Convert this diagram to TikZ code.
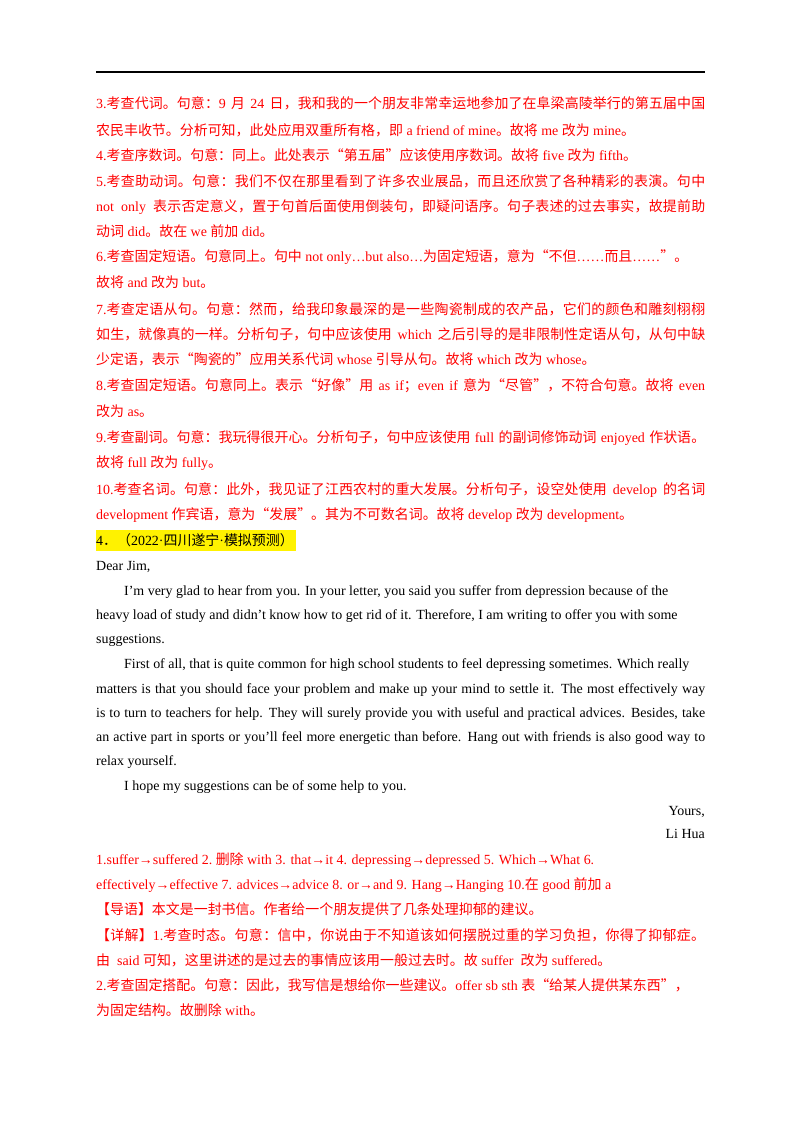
\documentclass[tikz,border=0pt]{standalone}
\usepackage{fontspec}
\setmainfont{Liberation Serif}
\newfontfamily\cjk{Noto Sans CJK SC}
\newfontfamily\lat{Liberation Serif}
\XeTeXinterchartokenstate=1
\newXeTeXintercharclass\CJKcls
\count255="3000
\loop \XeTeXcharclass\count255=\CJKcls \advance\count255 1 \ifnum\count255<"A000 \repeat
\count255="FF00
\loop \XeTeXcharclass\count255=\CJKcls \advance\count255 1 \ifnum\count255<"FFF0 \repeat
\XeTeXcharclass"201C=\CJKcls
\XeTeXcharclass"201D=\CJKcls
\XeTeXinterchartoks 0 \CJKcls = {\cjk}
\XeTeXinterchartoks 4095 \CJKcls = {\cjk}
\XeTeXinterchartoks \CJKcls 0 = {\lat}
\XeTeXinterchartoks \CJKcls 4095 = {\lat}
\XeTeXinterchartoks \CJKcls \CJKcls = {\hskip0pt plus 0.1pt}
\newcommand{\fl}[1]{\makebox[609bp][s]{#1}}
\tikzset{ln/.style={anchor=base west,inner sep=0pt,font=\fontsize{14}{17}\selectfont},
 rd/.style={ln,text=red}}
\begin{document}
\begin{tikzpicture}[x=1bp,y=-1bp]
\useasboundingbox[fill=white] (0,0) rectangle (800,1132);
\draw[line width=1.5bp] (96,72) -- (705,72);
\fill[yellow] (96,530) rectangle (296,551);
\node[rd] (l1) at (96,108) {\fl{3.考查代词。句意：9 月 24 日，我和我的一个朋友非常幸运地参加了在阜梁高陵举行的第五届中国}};
\node[rd] (l2) at (96,135) {农民丰收节。分析可知，此处应用双重所有格，即 a friend of mine。故将 me 改为 mine。};
\node[rd] (l3) at (96,160) {4.考查序数词。句意：同上。此处表示“第五届”应该使用序数词。故将 five 改为 fifth。};
\node[rd] (l4) at (96,186) {\fl{5.考查助动词。句意：我们不仅在那里看到了许多农业展品，而且还欣赏了各种精彩的表演。句中}};
\node[rd] (l5) at (96,211) {\fl{not only 表示否定意义，置于句首后面使用倒装句，即疑问语序。句子表述的过去事实，故提前助}};
\node[rd] (l6) at (96,236) {动词 did。故在 we 前加 did。};
\node[rd] (l7) at (96,261) {6.考查固定短语。句意同上。句中 not only…but also…为固定短语，意为“不但……而且……”。};
\node[rd] (l8) at (96,287) {故将 and 改为 but。};
\node[rd] (l9) at (96,314) {\fl{7.考查定语从句。句意：然而，给我印象最深的是一些陶瓷制成的农产品，它们的颜色和雕刻栩栩}};
\node[rd] (l10) at (96,339) {\fl{如生，就像真的一样。分析句子，句中应该使用 which 之后引导的是非限制性定语从句，从句中缺}};
\node[rd] (l11) at (96,364) {少定语，表示“陶瓷的”应用关系代词 whose 引导从句。故将 which 改为 whose。};
\node[rd] (l12) at (96,390) {\fl{8.考查固定短语。句意同上。表示“好像”用 as if；even if 意为“尽管”，不符合句意。故将 even}};
\node[rd] (l13) at (96,416) {改为 as。};
\node[rd] (l14) at (96,442) {\fl{9.考查副词。句意：我玩得很开心。分析句子，句中应该使用 full 的副词修饰动词 enjoyed 作状语。}};
\node[rd] (l15) at (96,467) {故将 full 改为 fully。};
\node[rd] (l16) at (96,494) {\fl{10.考查名词。句意：此外，我见证了江西农村的重大发展。分析句子，设空处使用 develop 的名词}};
\node[rd] (l17) at (96,519) {development 作宾语，意为“发展”。其为不可数名词。故将 develop 改为 development。};
\node[ln] (h4) at (96,545) {4．（2022·四川遂宁·模拟预测）};
\node[ln] (d1) at (96,570) {Dear Jim,};
\node[ln] (d2) at (124,595) {I'm very glad to hear from you. In your letter, you said you suffer from depression because of the};
\node[ln] (d3) at (96,619) {heavy load of study and didn't know how to get rid of it. Therefore, I am writing to offer you with some};
\node[ln] (d4) at (96,643) {suggestions.};
\node[ln] (d5) at (124,668) {First of all, that is quite common for high school students to feel depressing sometimes. Which really};
\node[ln] (d6) at (96,693) {\fl{matters is that you should face your problem and make up your mind to settle it. The most effectively way}};
\node[ln] (d7) at (96,717) {\fl{is to turn to teachers for help. They will surely provide you with useful and practical advices. Besides, take}};
\node[ln] (d8) at (96,741) {\fl{an active part in sports or you'll feel more energetic than before. Hang out with friends is also good way to}};
\node[ln] (d9) at (96,765) {relax yourself.};
\node[ln] (d10) at (124,790) {I hope my suggestions can be of some help to you.};
\node[ln,anchor=base east] (d11) at (705,815) {Yours,};
\node[ln,anchor=base east] (d12) at (705,838) {Li Hua};
\node[rd] (a1) at (96,864) {1.suffer→suffered 2.\ 删除 with 3. that→it 4. depressing→depressed 5. Which→What 6.};
\node[rd] (a2) at (96,889) {effectively→effective 7. advices→advice 8. or→and 9. Hang→Hanging 10.在 good 前加 a};
\node[rd] (a3) at (96,914) {【导语】本文是一封书信。作者给一个朋友提供了几条处理抑郁的建议。};
\node[rd] (a4) at (96,940) {\fl{【详解】1.考查时态。句意：信中，你说由于不知道该如何摆脱过重的学习负担，你得了抑郁症。}};
\node[rd] (a5) at (96,965) {由\ \ said 可知，这里讲述的是过去的事情应该用一般过去时。故 suffer\ \ 改为 suffered。};
\node[rd] (a6) at (96,990) {2.考查固定搭配。句意：因此，我写信是想给你一些建议。offer sb sth 表“给某人提供某东西”，};
\node[rd] (a7) at (96,1015) {为固定结构。故删除 with。};
\end{tikzpicture}
\end{document}
